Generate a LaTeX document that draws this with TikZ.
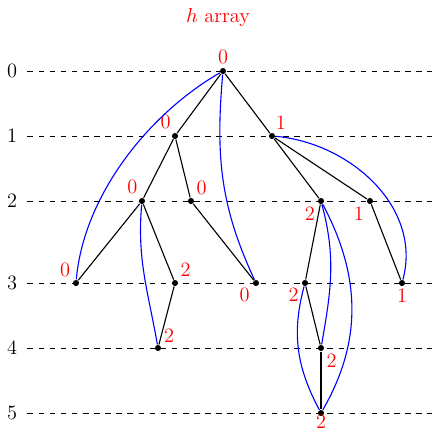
\documentclass[tikz,border=0pt]{standalone}
\usepackage{amsmath,amssymb}
\usepackage{tikz}
\usepackage{xcolor}

\begin{document}
\begin{tikzpicture}[
x=0.54pt,y=-0.54pt,
every node/.style={font=\fontsize{11}{13}\selectfont},
dot/.style={circle,fill,inner sep=0pt,minimum size=3.3pt},
hval/.style={text=red,inner sep=1.5pt},
hlink/.style={blue,semithick},
every path/.style={semithick}
]
\useasboundingbox (0,0) rectangle (432,432);

\node[text=red] (title) at (218,18) {$h$ array};

% levels
\foreach \lv/\yy in {0/71,1/136,2/201,3/283,4/348,5/413}{
  \node (lv\lv) at (12,\yy) {\lv};
  \coordinate (end\lv) at (432,\yy);
  \draw[thin,dashed,shorten <=2pt] (lv\lv) -- (end\lv);
}

% tree nodes
\node[dot,label={[hval]above:0}] (r) at (223,71) {};
\node[dot,label={[hval]105:0}] (a) at (175,136) {};
\node[dot,label={[hval]80:1}] (b) at (272,136) {};
\node[dot,label={[hval]110:0}] (c) at (142,201) {};
\node[dot,label={[hval]50:0}] (d) at (191,201) {};
\node[dot,label={[hval]220:2}] (e) at (321,201) {};
\node[dot,label={[hval]220:1}] (f) at (370,201) {};
\node[dot,label={[hval]135:0}] (g) at (76,283) {};
\node[dot,label={[hval]50:2}] (h) at (175,283) {};
\node[dot,label={[hval]215:0}] (i) at (256,283) {};
\node[dot,label={[hval]210:2}] (j) at (305,283) {};
\node[dot,label={[hval,inner sep=1pt]below:1}] (k) at (402,283) {};
\node[dot,label={[hval]40:2}] (l) at (158,348) {};
\node[dot,label={[hval]-50:2}] (m) at (321,348) {};
\node[dot,label={[hval,inner sep=0pt,label distance=-1.2pt]below:2}] (n) at (321,413) {};

% tree edges
\draw (r) -- (a);
\draw (r) -- (b);
\draw (a) -- (c);
\draw (a) -- (d);
\draw (c) -- (g);
\draw (c) -- (h);
\draw (d) -- (i);
\draw (h) -- (l);
\draw (b) -- (e);
\draw (b) -- (f);
\draw (e) -- (j);
\draw (f) -- (k);
\draw (j) -- (m);
\draw (m) -- (n);

% h links
\draw[hlink] (r) to[out=210,in=85,looseness=0.85] (g);
\draw[hlink] (r) to[out=-95,in=115] (i);
\draw[hlink] (c) to[out=-95,in=100] (l);
\draw[hlink] (b) to[out=-5,in=75] (k);
\draw[hlink] (e) to[out=-75,in=80] (m);
\draw[hlink] (e) to[out=-62,in=60] (n);
\draw[hlink] (j) to[out=-105,in=118] (n);

\end{tikzpicture}
\end{document}
